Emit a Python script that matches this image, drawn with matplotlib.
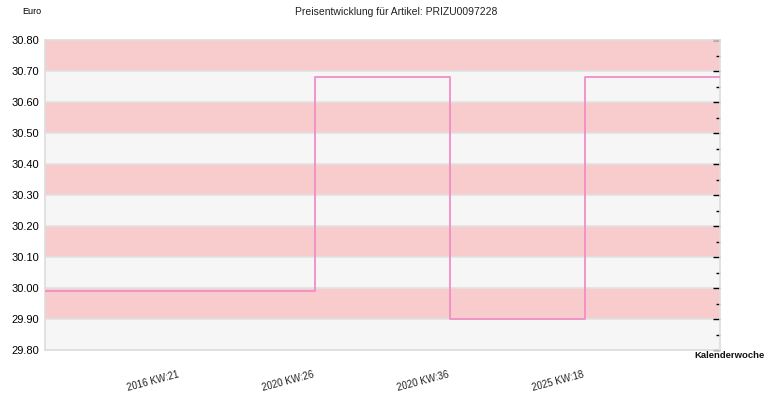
import matplotlib
matplotlib.use("Agg")
import matplotlib.pyplot as plt
import numpy as np

plt.rcParams['font.family'] = ['Liberation Sans', 'DejaVu Sans']

# Preis je Kalenderwoche
wochen = ["2016 KW:21", "2020 KW:26", "2020 KW:36", "2025 KW:18"]
preise = [29.99, 30.68, 29.90, 30.68]

y_min, y_max = 29.80, 30.80

fig = plt.figure(figsize=(7.70, 4.00), dpi=100)
ax = fig.add_axes([45/770, 1 - 350/400, 675/770, 310/400])

# abwechselnde Hintergrundstreifen
ax.set_facecolor('#f6f6f6')
stufen = np.round(np.arange(y_min, y_max, 0.1), 2)
for i, s in enumerate(stufen):
    if i % 2 == 1:
        ax.axhspan(s, s + 0.1, color='#f8cccc', lw=0, zorder=0)
    ax.axhline(s, color='#e2e2e2', lw=1.2, zorder=1)

# Stufenlinie, links und rechts bis zum Rand verlaengert
n = len(wochen)
xs = np.arange(n + 2)
ys = [preise[0]] + preise + [preise[-1]]
ax.step(xs, ys, where='post', color='#f28dc5', lw=1.3, zorder=3)

ax.set_xlim(0, n + 1)
ax.set_ylim(y_min, y_max)
ax.set_xticks(np.arange(1, n + 1))
ax.set_xticklabels(wochen, rotation=15, ha='right', fontsize=7, color='#222222')
ax.tick_params(axis='x', length=0, pad=14)

ax.set_yticks(np.round(np.arange(y_min, y_max + 0.001, 0.1), 2))
ax.set_yticklabels(["%.2f" % v for v in ax.get_yticks()], fontsize=8)
ax.set_yticks(np.round(np.arange(y_min + 0.05, y_max, 0.1), 2), minor=True)
ax.tick_params(axis='y', which='both', left=False, right=True, labelleft=True,
               direction='in', color='black', pad=4)
ax.tick_params(axis='y', which='major', length=5, width=1)
ax.tick_params(axis='y', which='minor', length=3, width=1)

for sp in ax.spines.values():
    sp.set_color('#dddddd')
    sp.set_linewidth(1.2)

fig.text(396/770, 1 - 12/400, "Preisentwicklung für Artikel: PRIZU0097228",
         ha='center', va='center', fontsize=7.5, color='#222222')
fig.text(22/770, 1 - 12/400, "Euro", ha='left', va='center', fontsize=6.5)
fig.text(765/770, 1 - 356/400, "Kalenderwoche", ha='right', va='center',
         fontsize=6.8, fontweight='bold', color='#111111')

fig.savefig("out.png", dpi=100)
